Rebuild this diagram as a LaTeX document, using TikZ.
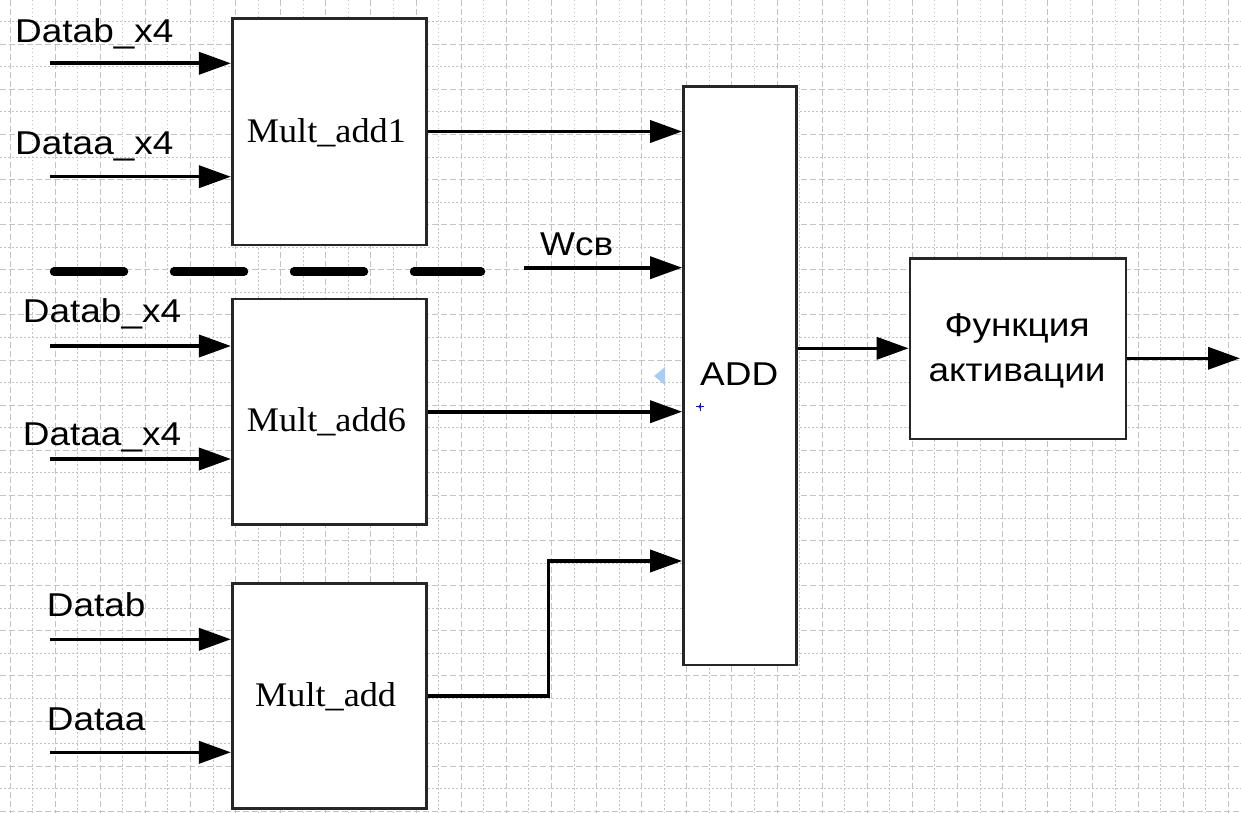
\documentclass[tikz,border=0pt]{standalone}
\usepackage{fontspec}
\usetikzlibrary{arrows.meta}
\newfontfamily\sansx[FakeStretch=1.12]{Liberation Sans}
\newfontfamily\serifx[FakeStretch=1.05]{Liberation Serif}
\definecolor{gridc}{RGB}{195,195,195}
\definecolor{selblue}{RGB}{170,205,245}
\definecolor{crossblue}{RGB}{20,20,200}
\begin{document}
\begin{tikzpicture}[x=1pt,y=-1pt,
  box/.style={draw=black!85,line width=2.7pt,fill=white,rectangle,inner sep=0pt},
  sanslbl/.style={font=\sansx\fontsize{33}{38}\selectfont,inner sep=0pt,anchor=base west},
  seriflbl/.style={font=\serifx\fontsize{34.5}{40}\selectfont,inner sep=0pt,anchor=base west},
  arr/.style={line width=3.6pt,-{Triangle[length=32pt,width=22pt]}},
  majorgrid/.style={gridc,line width=1pt,dash pattern=on 6pt off 3pt},
  minorgrid/.style={gridc,line width=1pt,dash pattern=on 1.5pt off 2.5pt}]
\useasboundingbox (0,0) rectangle (1241,813);
\fill[white] (0,0) rectangle (1241,813);
% grid
\foreach \k in {0,...,54}{
  \pgfmathsetmacro{\gx}{10+\k*22.56}
  \ifodd\k
    \draw[minorgrid] (\gx,0) -- (\gx,813);
  \else
    \draw[majorgrid] (\gx,0) -- (\gx,813);
  \fi}
\foreach \k in {0,...,35}{
  \pgfmathsetmacro{\gy}{21.7+\k*22.56}
  \ifodd\k
    \draw[majorgrid] (0,\gy) -- (1241,\gy);
  \else
    \draw[minorgrid] (0,\gy) -- (1241,\gy);
  \fi}
% boxes
\node[box,minimum width=194.4pt,minimum height=226.7pt] (m1) at (329.5,131.7) {};
\node[box,minimum width=194.4pt,minimum height=225.3pt] (m6) at (329.5,411.7) {};
\node[box,minimum width=194.4pt,minimum height=225pt] (m0) at (329.5,695.8) {};
\node[box,minimum width=113.2pt,minimum height=578.3pt] (add) at (740.1,375.8) {};
\node[box,minimum width=216pt,minimum height=180.7pt] (fa) at (1018,348.7) {};
% box texts
\node[seriflbl] (t1) at (246.7,142.7) {Mult\_add1};
\node[seriflbl] (t6) at (246.7,431.7) {Mult\_add6};
\node[seriflbl] (t0) at (255,706.7) {Mult\_add};
\node[sanslbl] (tadd) at (700,385.7) {ADD};
\node[sanslbl,anchor=base] (tfa1) at (1017,336.7) {Функция};
\node[sanslbl,anchor=base] (tfa2) at (1017,381.7) {активации};
% input labels
\node[sanslbl] (l1) at (15,42.7) {Datab\_x4};
\node[sanslbl] (l2) at (15,155) {Dataa\_x4};
\node[sanslbl] (l3) at (22.7,322.7) {Datab\_x4};
\node[sanslbl] (l4) at (22.7,445) {Dataa\_x4};
\node[sanslbl] (l5) at (46.7,616) {Datab};
\node[sanslbl] (l6) at (46.7,730) {Dataa};
\node[sanslbl] (lw) at (540,255) {Wсв};
% input arrow starts
\coordinate (s1) at (50,63.3);
\coordinate (s2) at (50,176.7);
\coordinate (s3) at (50,346);
\coordinate (s4) at (50,459);
\coordinate (s5) at (50,639.3);
\coordinate (s6) at (50,752.3);
\coordinate (sw) at (524,267.7);
\draw[arr] (s1) -- (s1 -| m1.west);
\draw[arr] (s2) -- (s2 -| m1.west);
\draw[arr] (s3) -- (s3 -| m6.west);
\draw[arr] (s4) -- (s4 -| m6.west);
\draw[arr] (s5) -- (s5 -| m0.west);
\draw[arr] (s6) -- (s6 -| m0.west);
\draw[arr] (sw) -- (sw -| add.west);
% dashed separator
\coordinate (d1) at (54,271.7);
\coordinate (d2) at (481,271.7);
\draw[line width=8.5pt,line cap=round,dash pattern=on 70pt off 50pt] (d1) -- (d2);
% multiplier outputs
\coordinate (o1) at (m1.east |- 0,131.5);
\coordinate (o6) at (m6.east |- 0,411.7);
\coordinate (o0) at (m0.east |- 0,696);
\coordinate (bend) at (548.3,561);
\draw[arr] (o1) -- (o1 -| add.west);
\draw[arr] (o6) -- (o6 -| add.west);
\draw[arr] (o0) -| (bend) -- (bend -| add.west);
% ADD -> activation -> out
\coordinate (a1) at (add.east |- 0,348.3);
\draw[arr] (a1) -- (a1 -| fa.west);
\coordinate (f1) at (fa.east |- 0,358.3);
\coordinate (fo) at (1240,358.3);
\draw[arr] (f1) -- (fo);
% editor markers
\fill[selblue] (654,376) -- (665,367) -- (665,385) -- cycle;
\draw[crossblue,line width=0.8pt] (696,406.7) -- (704,406.7) (700,402.7) -- (700,410.7);
\draw[crossblue,line width=0.6pt] (700,406.7) circle (1.6pt);
\end{tikzpicture}
\end{document}
